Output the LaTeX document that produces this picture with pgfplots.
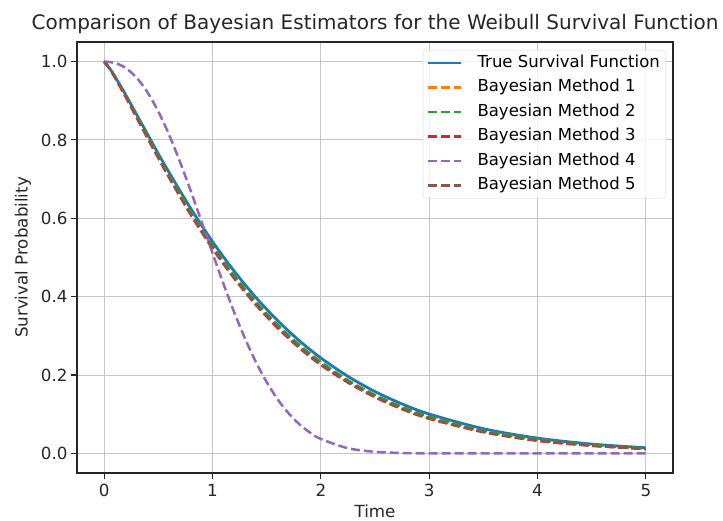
\documentclass[border=0pt]{standalone}
\usepackage{fontspec}
\setmainfont{DejaVu Sans}
\usepackage{pgfplots}
\pgfplotsset{compat=1.18}
\definecolor{c0}{HTML}{1F77B4}
\definecolor{c1}{HTML}{FF7F0E}
\definecolor{c2}{HTML}{2CA02C}
\definecolor{c3}{HTML}{D62728}
\definecolor{c4}{HTML}{9467BD}
\definecolor{c5}{HTML}{8C564B}
\definecolor{gridc}{HTML}{C4C4C4}
\definecolor{legc}{HTML}{D8D8D8}
\begin{document}
\begin{tikzpicture}
\begin{axis}[
  scale only axis,
  width=596pt, height=431pt,
  xmin=-0.25, xmax=5.25, ymin=-0.05, ymax=1.05,
  xtick={0,1,2,3,4,5},
  ytick={0,0.2,0.4,0.6,0.8,1.0},
  yticklabel style={/pgf/number format/.cd, fixed, fixed zerofill, precision=1},
  /pgf/number format/assume math mode=true,
  tick label style={font=\fontsize{16.7}{19}\selectfont, color=black!85},
  xticklabel style={yshift=-2pt},
  label style={font=\fontsize{16.7}{19}\selectfont, color=black!85},
  xlabel style={yshift=-1pt},
  ylabel style={yshift=3pt},
  title style={font=\fontsize{20}{24}\selectfont, color=black!85, yshift=-1pt},
  title={Comparison of Bayesian Estimators for the Weibull Survival Function},
  xlabel={Time},
  ylabel={Survival Probability},
  grid=major,
  major grid style={gridc, line width=1pt},
  axis line style={black!85, line width=1.1pt},
  tick align=outside,
  major tick length=6pt,
  tick style={black!85, line width=1.1pt},
  xtick pos=bottom, ytick pos=left,
  legend style={at={(1,1)}, anchor=north east, xshift=-7pt, yshift=-8pt,
    font=\fontsize{16.5}{19}\selectfont, draw=legc, fill=white, fill opacity=0.8, text opacity=1,
    rounded corners=3pt, inner xsep=4pt, inner ysep=3pt,
    row sep=5pt,
    nodes={inner sep=2pt, text height=12pt, text depth=3.5pt}},
  legend cell align=left,
  legend image code/.code={\draw[line width=2.5pt,#1] (0pt,0pt) -- (33pt,0pt);},
  every axis plot/.append style={line width=2.5pt},
]
\addplot[c0, smooth, line width=2.8pt] coordinates {
(0,1.0) (0.05,0.983) (0.1,0.962) (0.2,0.915) (0.3,0.865) (0.4,0.815) (0.5,0.765) (0.6,0.717)
(0.8,0.6248) (1.0,0.5408) (1.2,0.4653) (1.4,0.3983) (1.6,0.3394) (1.8,0.2880) (2.0,0.2436)
(2.25,0.1966) (2.5,0.1579) (2.75,0.1262) (3.0,0.1005) (3.5,0.0630) (4.0,0.0390) (4.5,0.0238) (5.0,0.0144)};
\addlegendentry{\hspace{13pt}True Survival Function}
\addplot[c1, smooth, dash pattern=on 9pt off 4pt] coordinates {
(0,1.0) (0.05,0.9826) (0.1,0.9604) (0.2,0.9114) (0.3,0.8598) (0.4,0.8080) (0.5,0.7568) (0.6,0.7070)
(0.8,0.6128) (1.0,0.5272) (1.2,0.4508) (1.4,0.3833) (1.6,0.3245) (1.8,0.2736) (2.0,0.2297)
(2.25,0.1838) (2.5,0.1463) (2.75,0.1158) (3.0,0.0914) (3.5,0.0562) (4.0,0.0341) (4.5,0.0204) (5.0,0.0121)};
\addlegendentry{\hspace{13pt}Bayesian Method 1}
\addplot[c2, smooth, dash pattern=on 9pt off 4pt] coordinates {
(0,1.0) (0.05,0.9831) (0.1,0.9614) (0.2,0.9134) (0.3,0.8628) (0.4,0.8110) (0.5,0.7598) (0.6,0.7100)
(0.8,0.6168) (1.0,0.5312) (1.2,0.4548) (1.4,0.3873) (1.6,0.3285) (1.8,0.2776) (2.0,0.2337)
(2.25,0.1868) (2.5,0.1493) (2.75,0.1188) (3.0,0.0944) (3.5,0.0582) (4.0,0.0361) (4.5,0.0214) (5.0,0.0131)};
\addlegendentry{\hspace{13pt}Bayesian Method 2}
\addplot[c3, smooth, dash pattern=on 9pt off 4pt] coordinates {
(0,1.0) (0.05,0.9821) (0.1,0.9594) (0.2,0.9094) (0.3,0.8568) (0.4,0.8050) (0.5,0.7538) (0.6,0.7040)
(0.8,0.6088) (1.0,0.5232) (1.2,0.4468) (1.4,0.3793) (1.6,0.3205) (1.8,0.2696) (2.0,0.2257)
(2.25,0.1808) (2.5,0.1433) (2.75,0.1128) (3.0,0.0884) (3.5,0.0542) (4.0,0.0321) (4.5,0.0194) (5.0,0.0111)};
\addlegendentry{\hspace{13pt}Bayesian Method 3}
\addplot[c4, smooth, dash pattern=on 9pt off 4pt] coordinates {
(0,1.0) (0.1,0.9966) (0.2,0.9836) (0.3,0.9588) (0.4,0.9218) (0.5,0.8728) (0.6,0.8130) (0.7,0.7445)
(0.8,0.6695) (0.9,0.5910) (1.0,0.5116) (1.1,0.4341) (1.2,0.3608) (1.3,0.2936) (1.4,0.2338)
(1.5,0.1821) (1.6,0.1387) (1.7,0.1032) (1.8,0.0750) (1.9,0.0532) (2.0,0.0369) (2.25,0.0132)
(2.5,0.0040) (2.75,0.0010) (3.0,0.0002) (3.5,0.0) (4.0,0.0) (4.5,0.0) (5.0,0.0)};
\addlegendentry{\hspace{13pt}Bayesian Method 4}
\addplot[c5, smooth, dash pattern=on 9pt off 4pt] coordinates {
(0,1.0) (0.05,0.9824) (0.1,0.9599) (0.2,0.9104) (0.3,0.8583) (0.4,0.8065) (0.5,0.7553) (0.6,0.7055)
(0.8,0.6108) (1.0,0.5252) (1.2,0.4488) (1.4,0.3813) (1.6,0.3225) (1.8,0.2716) (2.0,0.2277)
(2.25,0.1823) (2.5,0.1448) (2.75,0.1143) (3.0,0.0899) (3.5,0.0552) (4.0,0.0331) (4.5,0.0199) (5.0,0.0116)};
\addlegendentry{\hspace{13pt}Bayesian Method 5}
\end{axis}
\pgfresetboundingbox
\path (current axis.south west) ++(-77pt,-48pt) rectangle ++(723pt,521pt);
\end{tikzpicture}
\end{document}
